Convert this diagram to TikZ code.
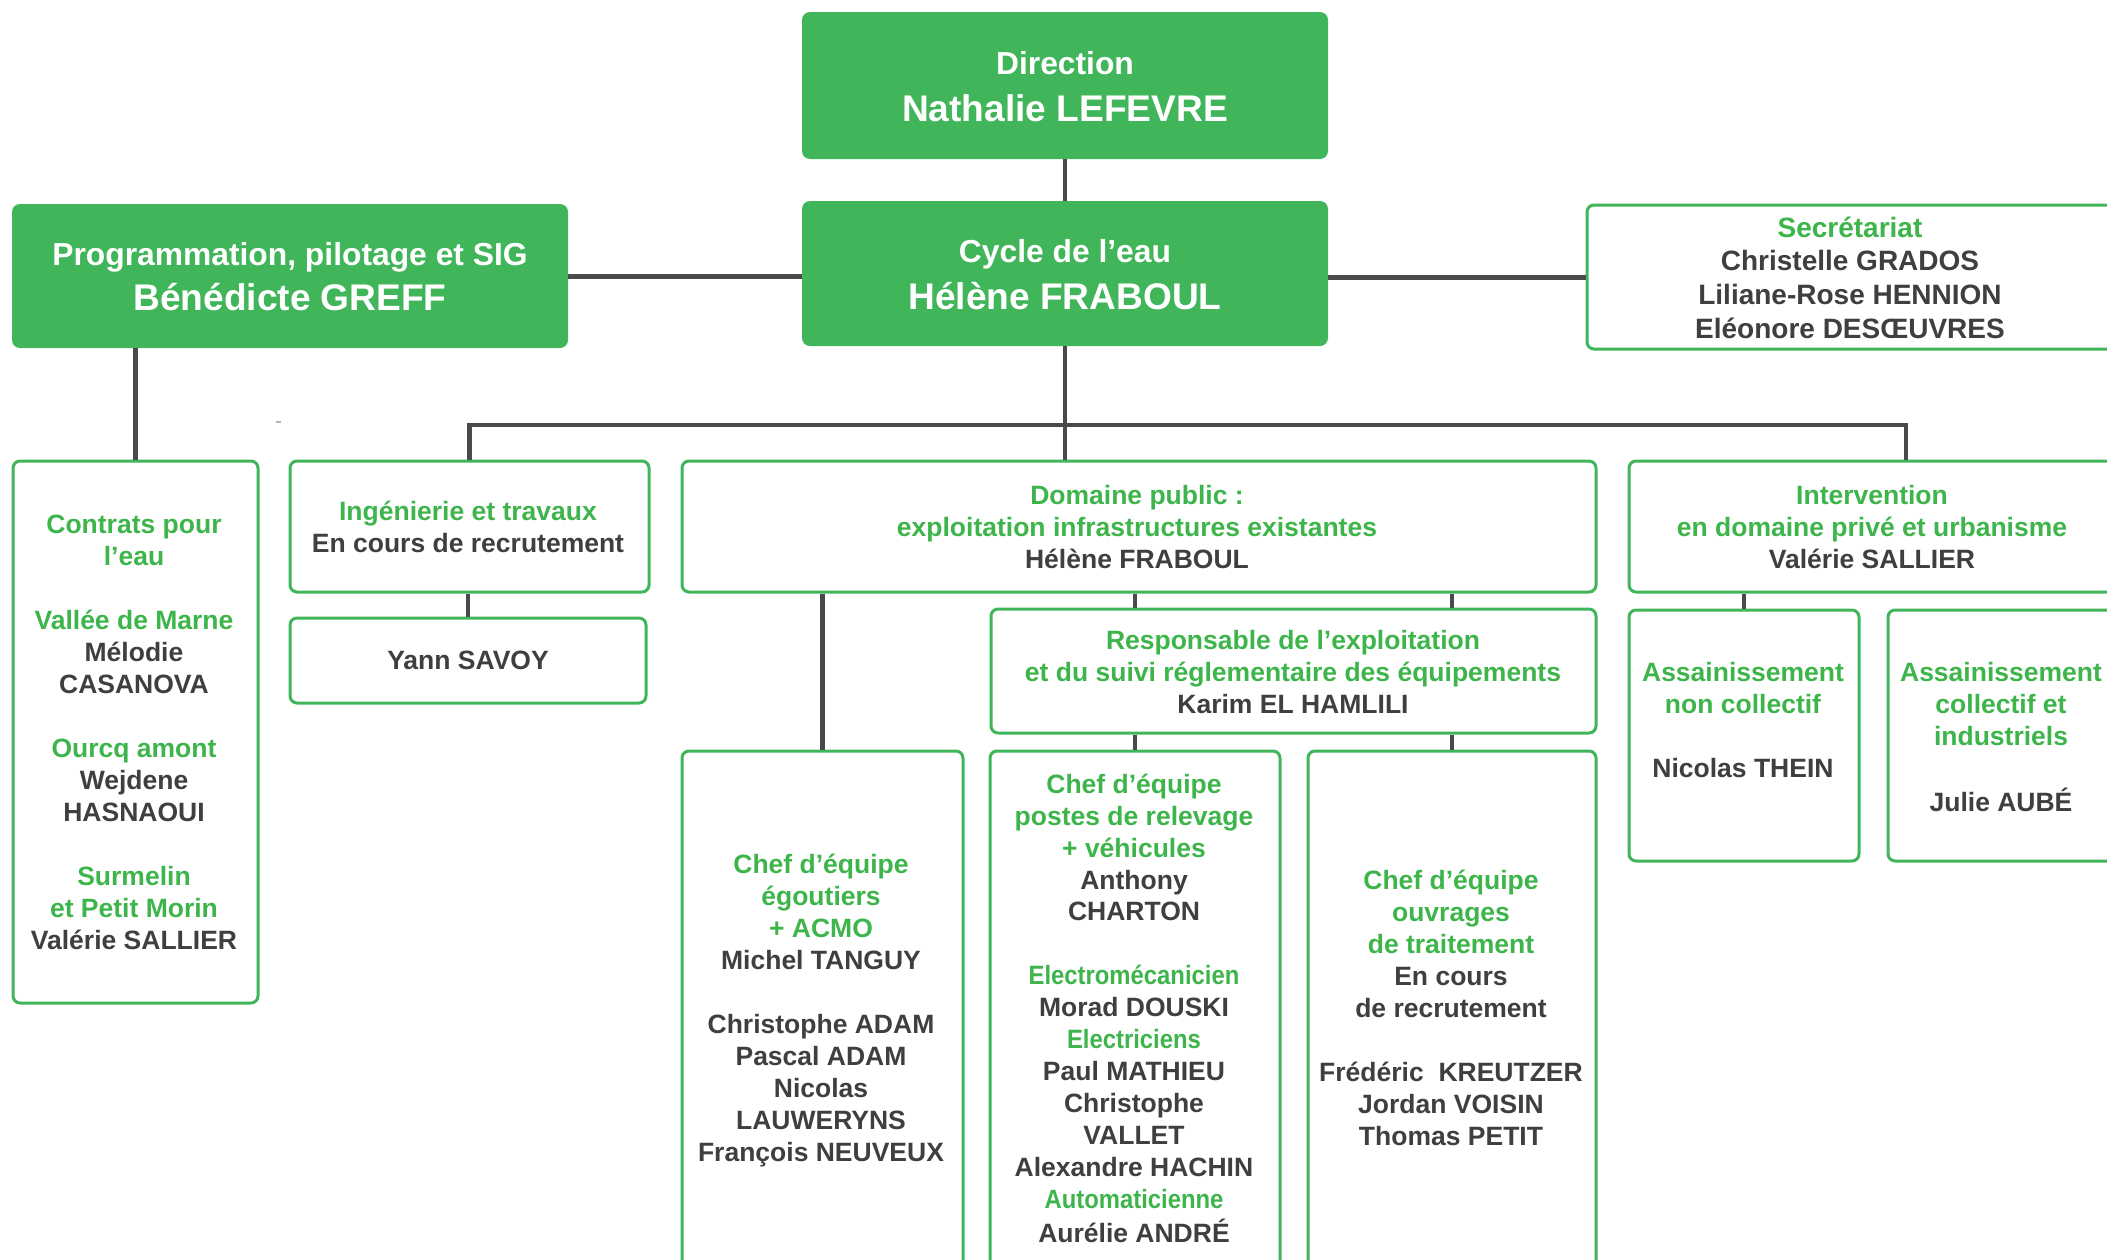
\documentclass[tikz,border=0pt]{standalone}
\usepackage{fontspec}
\setmainfont{Liberation Sans}
\usepackage{graphicx}
\usetikzlibrary{calc}
\definecolor{grn}{HTML}{41B55A}
\definecolor{tgrn}{HTML}{3DB54A}
\definecolor{dk}{HTML}{3F3F41}
\definecolor{ln}{HTML}{4A4A4C}
\newcommand\bodyf{\bfseries\fontsize{26.5}{31.95}\selectfont}
\newcommand\secf{\bfseries\fontsize{28}{33.6}\selectfont}
\newcommand\hA{\bfseries\fontsize{31.8}{38}\selectfont}
\newcommand\hB{\bfseries\fontsize{37.1}{44}\selectfont}
\newcommand\G[1]{{\color{tgrn}\strut#1}}
\newcommand\D[1]{{\color{dk}\strut#1}}
\newcommand\E{\strut}
\newcommand\Nr[1]{\scalebox{0.9}[1]{#1}}
\begin{document}
\begin{tikzpicture}[x=1pt,y=-1pt,
  fbox/.style={rectangle, fill=grn, rounded corners=8pt, inner sep=0pt},
  obox/.style={rectangle, draw=grn, line width=3pt, rounded corners=7pt, inner sep=0pt, fill=white},
  tx/.style={anchor=north, inner sep=0pt, align=center, font=\bodyf},
  wt/.style={anchor=base, inner sep=0pt, text=white},
  conn/.style={draw=ln, line width=4.5pt}]
\useasboundingbox (0,0) rectangle (2107,1259);
\clip (0,0) rectangle (2107,1259);
% boxes
\node[fbox, minimum width=526, minimum height=147] (dir) at (1065,85.5) {};
\node[fbox, minimum width=526, minimum height=145] (cyc) at (1065,273.5) {};
\node[fbox, minimum width=556, minimum height=144] (prog) at (290,276) {};
\node[obox, minimum width=527, minimum height=144] (sec) at (1850.5,277) {};
\node[obox, minimum width=245, minimum height=542] (con) at (135.5,732) {};
\node[obox, minimum width=359, minimum height=131] (ing) at (469.5,526.5) {};
\node[obox, minimum width=356, minimum height=85] (yan) at (468,660.5) {};
\node[obox, minimum width=914, minimum height=131] (dom) at (1139,526.5) {};
\node[obox, minimum width=486, minimum height=131] (int) at (1872,526.5) {};
\node[obox, minimum width=605, minimum height=124] (res) at (1293.5,671) {};
\node[obox, minimum width=230, minimum height=251] (anc) at (1744,735.5) {};
\node[obox, minimum width=226, minimum height=251] (ac) at (2001,735.5) {};
\node[obox, minimum width=281, minimum height=549] (ego) at (822.5,1025.5) {};
\node[obox, minimum width=290, minimum height=549] (pos) at (1135,1025.5) {};
\node[obox, minimum width=288, minimum height=549] (ouv) at (1452,1025.5) {};
% connectors
\coordinate (bus) at (1065,425);
\draw[conn] (dir.south) -- (cyc.north);
\draw[conn, line width=5pt] (prog.east) -- (prog.east -| cyc.west);
\draw[conn, line width=5pt] (cyc.east |- sec.west) -- (sec.west);
\draw[conn] (con.north |- prog.south) -- (con.north);
\draw[conn] (cyc.south) -- (cyc.south |- dom.north);
\draw[conn] (ing.north) |- (bus) -| ($(int.north)+(34,0)$);
\draw[conn] (yan.north |- ing.south) -- (yan.north);
\draw[conn] (ego.north |- dom.south) -- (ego.north);
\draw[conn] (pos.north |- dom.south) -- (pos.north |- res.north);
\draw[conn] (pos.north |- res.south) -- (pos.north);
\draw[conn] (ouv.north |- dom.south) -- (ouv.north |- res.north);
\draw[conn] (ouv.north |- res.south) -- (ouv.north);
\draw[conn] (anc.north |- int.south) -- (anc.north);
\draw[gray!60, line width=1.5pt] (276,422) -- (281,422);
% texts
\node[wt, font=\hA] (dirT1) at (1065,74.5) {Direction};
\node[wt, font=\hB] (dirT2) at (1065,121) {Nathalie LEFEVRE};
\node[wt, font=\hA] (cycT1) at (1065,262.5) {Cycle de l’eau};
\node[wt, font=\hB] (cycT2) at (1065,309.5) {Hélène FRABOUL};
\node[wt, font=\hA] (progT1) at (290,265.5) {Programmation, pilotage et SIG};
\node[wt, font=\hB] (progT2) at (290,310.5) {Bénédicte GREFF};
\node[tx, font=\secf] (secT) at (1850,213.5) {\G{Secrétariat}\\\D{Christelle GRADOS}\\\D{Liliane-Rose HENNION}\\\D{Eléonore DESŒUVRES}};
\node[tx] (conT) at (134,511.1) {\G{Contrats pour}\\\G{l’eau}\\\E\\\G{Vallée de Marne}\\\D{Mélodie}\\\D{CASANOVA}\\\E\\\G{Ourcq amont}\\\D{Wejdene}\\\D{HASNAOUI}\\\E\\\G{Surmelin}\\\G{et Petit Morin}\\\D{Valérie SALLIER}};
\node[tx] (ingT) at (468,498.1) {\G{Ingénierie et travaux}\\\D{En cours de recrutement}};
\node[tx] (yanT) at (468,647.1) {\D{Yann SAVOY}};
\node[tx] (domT) at (1137,481.6) {\G{Domaine public :}\\\G{exploitation infrastructures existantes}\\\D{Hélène FRABOUL}};
\node[tx] (intT) at (1872,481.6) {\G{Intervention}\\\G{en domaine privé et urbanisme}\\\D{Valérie SALLIER}};
\node[tx] (resT) at (1293,627.1) {\G{Responsable de l’exploitation}\\\G{et du suivi réglementaire des équipements}\\\D{Karim EL HAMLILI}};
\node[tx] (ancT) at (1743,659.1) {\G{Assainissement}\\\G{non collectif}\\\E\\\D{Nicolas THEIN}};
\node[tx] (acT) at (2001,659.1) {\G{Assainissement}\\\G{collectif et}\\\G{industriels}\\\E\\\D{Julie AUBÉ}};
\node[tx] (egoT) at (821,851.1) {\G{Chef d’équipe}\\\G{égoutiers}\\\G{+ ACMO}\\\D{Michel TANGUY}\\\E\\\D{Christophe ADAM}\\\D{Pascal ADAM}\\\D{Nicolas}\\\D{LAUWERYNS}\\\D{François NEUVEUX}};
\node[tx] (posT) at (1134,770.6) {\G{Chef d’équipe}\\\G{postes de relevage}\\\G{+ véhicules}\\\D{Anthony}\\\D{CHARTON}\\\E\\\G{\Nr{Electromécanicien}}\\\D{Morad DOUSKI}\\\G{\Nr{Electriciens}}\\\D{Paul MATHIEU}\\\D{Christophe}\\\D{VALLET}\\\D{Alexandre HACHIN}\\\G{\Nr{Automaticienne}}\\\D{Aurélie ANDRÉ}};
\node[tx] (ouvT) at (1451,867.1) {\G{Chef d’équipe}\\\G{ouvrages}\\\G{de traitement}\\\D{En cours}\\\D{de recrutement}\\\E\\\D{Frédéric\ \ KREUTZER}\\\D{Jordan VOISIN}\\\D{Thomas PETIT}};
\end{tikzpicture}
\end{document}
